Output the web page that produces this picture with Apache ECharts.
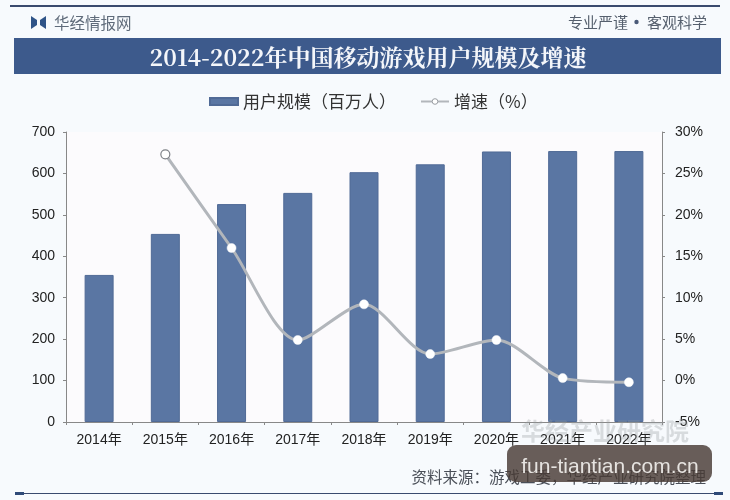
<!DOCTYPE html>
<html>
<head>
<meta charset="utf-8">
<style>html,body{margin:0;padding:0;background:#f7fafd}#c{width:730px;height:500px}</style>
<script src="https://cdn.jsdelivr.net/npm/echarts@6/dist/echarts.min.js"></script>
</head>
<body>
<div id="c"></div>
<script>
const years = ['2014年','2015年','2016年','2017年','2018年','2019年','2020年','2021年','2022年'];
const users = [355, 454, 526, 553, 603, 622, 653, 654, 654];
const growth = [null, 27.3, 16, 4.9, 9.2, 3.2, 4.9, 0.3, -0.2];
const leftTicks = 100;
const rightTicks = 5;
const titleText = '2014-2022年中国移动游戏用户规模及增速';
const sourceText = '资料来源：游戏工委，华经产业研究院整理';
const navy = '#3d5a8c';
const barBlue = '#5a76a3';
const cjk = '"Noto Sans CJK SC","Liberation Sans",sans-serif';
const axisFont = '"Liberation Sans","Noto Sans CJK SC",sans-serif';

// The first growth point keeps a dark ring; the rest are plain white dots.
const growthPoints = growth.map((v, i) => i === 1
  ? {value: v, itemStyle: {color: '#ffffff', borderColor: '#7d8186', borderWidth: 1.2}}
  : {value: v});

const chart = echarts.init(document.getElementById('c'));
chart.setOption({
  backgroundColor: '#f7fafd',
  animation: false,
  legend: {
    top: 88, left: 204, itemGap: 24, itemWidth: 28, itemHeight: 7,
    textStyle: {fontFamily: cjk, fontSize: 17, color: '#333'},
    data: [
      {name: '用户规模（百万人）', icon: 'rect'},
      {name: '增速（%）', itemStyle: {color: '#ffffff', borderColor: '#9a9ea4', borderWidth: 1}}
    ]
  },
  grid: {left: 66, right: 68, top: 132, bottom: 78, backgroundColor: '#fcfbfd', show: true, borderWidth: 0},
  xAxis: {
    type: 'category', data: years,
    axisLine: {lineStyle: {color: '#888'}},
    axisTick: {show: true, length: 3, lineStyle: {color: '#888'}},
    axisLabel: {fontFamily: axisFont, fontSize: 14, color: '#222', margin: 11}
  },
  yAxis: [
    {
      type: 'value', min: 0, max: 700, interval: leftTicks,
      axisLine: {show: true, lineStyle: {color: '#888'}},
      axisTick: {show: true, length: 3, lineStyle: {color: '#888'}},
      splitLine: {show: false},
      axisLabel: {fontFamily: axisFont, fontSize: 14, color: '#222', margin: 11}
    },
    {
      type: 'value', min: -5, max: 30, interval: rightTicks,
      axisLine: {show: true, lineStyle: {color: '#888'}},
      axisTick: {show: true, length: 3, lineStyle: {color: '#888'}},
      splitLine: {show: false},
      axisLabel: {fontFamily: axisFont, fontSize: 14, color: '#222', margin: 13, formatter: '{value}%'}
    }
  ],
  series: [
    {
      name: '用户规模（百万人）', type: 'bar', data: users, barWidth: 29, yAxisIndex: 0,
      itemStyle: {color: barBlue, borderColor: '#506a96', borderWidth: 1}
    },
    {
      name: '增速（%）', type: 'line', data: growthPoints, yAxisIndex: 1, smooth: 0.28,
      symbol: 'circle', symbolSize: 9, showAllSymbols: true,
      lineStyle: {color: '#b2b6bb', width: 3},
      itemStyle: {color: '#ffffff', borderColor: '#f4f6f9', borderWidth: 0.5}
    }
  ],
  graphic: [
    {type: 'rect', z: 10, shape: {x: 10, y: 5, width: 710, height: 2}, style: {fill: '#3a4a6e'}},
    {type: 'rect', z: 10, shape: {x: 14, y: 38, width: 707, height: 36}, style: {fill: navy}},
    {type: 'text', z: 11, style: {x: 368, y: 57, text: titleText, align: 'center', verticalAlign: 'middle',
      font: 'bold 23px "Noto Serif CJK SC","Noto Sans CJK SC",serif', fill: '#f4f6fa'}},
    {type: 'polygon', z: 10, shape: {points: [[31, 16], [37, 20], [37, 25], [31, 29]]}, style: {fill: '#2f5488'}},
    {type: 'polygon', z: 10, shape: {points: [[46, 16], [40, 20], [40, 25], [46, 29]]}, style: {fill: '#2f5488'}},
    {type: 'text', z: 10, style: {x: 54, y: 23, text: '华经情报网', verticalAlign: 'middle',
      font: '15.5px "Noto Sans CJK SC",sans-serif', fill: '#5f6b7a'}},
    {type: 'text', z: 10, style: {x: 628, y: 22, text: '专业严谨', align: 'right', verticalAlign: 'middle',
      font: '15px "Noto Sans CJK SC",sans-serif', fill: '#56606e'}},
    {type: 'circle', z: 10, shape: {cx: 636.5, cy: 22, r: 2.2}, style: {fill: '#4a5a78'}},
    {type: 'text', z: 10, style: {x: 707, y: 22, text: '客观科学', align: 'right', verticalAlign: 'middle',
      font: '15px "Noto Sans CJK SC",sans-serif', fill: '#56606e'}},
    {type: 'text', z: 10, style: {x: 706, y: 477, text: sourceText, align: 'right', verticalAlign: 'middle',
      font: '15.5px "Noto Sans CJK SC",sans-serif', fill: '#4a4f58'}},
    {type: 'rect', z: 10, shape: {x: 15, y: 493, width: 700, height: 1}, style: {fill: '#3a4a6e'}},
    {type: 'rect', z: 10, shape: {x: 15, y: 492, width: 9, height: 3}, style: {fill: '#2f4a78'}},
    {type: 'rect', z: 10, shape: {x: 714, y: 492, width: 9, height: 3}, style: {fill: '#2f4a78'}},
    {type: 'text', z: 12, style: {x: 605, y: 431, text: '华经产业研究院', align: 'center', verticalAlign: 'middle',
      font: 'bold 24px "Noto Sans CJK SC",sans-serif', fill: 'rgba(150,155,160,0.32)'}},
    {type: 'rect', z: 13, shape: {x: 507, y: 445, width: 205, height: 37, r: 9}, style: {fill: 'rgba(72,58,52,0.82)'}},
    {type: 'text', z: 14, style: {x: 610, y: 467, text: 'fun-tiantian.com.cn', align: 'center', verticalAlign: 'middle',
      font: '21px "Liberation Sans",sans-serif', fill: '#e6e3e0'}}
  ]
});
</script>
</body>
</html>
